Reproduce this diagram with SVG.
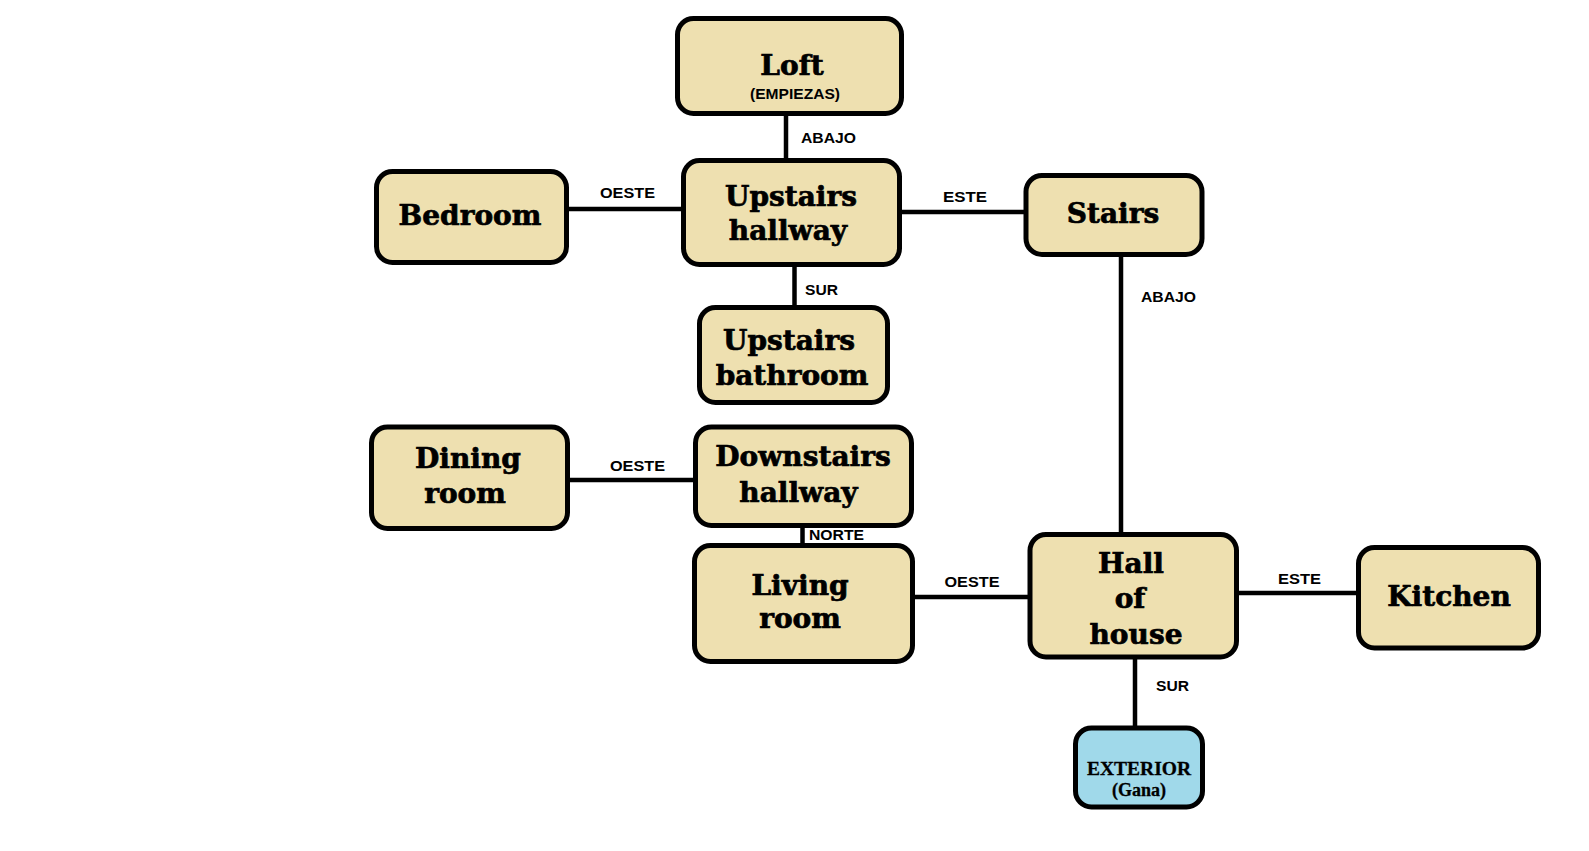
<svg xmlns="http://www.w3.org/2000/svg" width="1589" height="851" viewBox="0 0 1589 851">
<style>
.box{fill:#eee0b0;stroke:#000;stroke-width:5}
.ext{fill:#a0d9ea;stroke:#000;stroke-width:5}
.t{font-family:"DejaVu Serif","Liberation Serif",serif;font-weight:bold;font-size:28px;text-anchor:middle;fill:#000;stroke:#000;stroke-width:0.7}
.s{font-family:"Liberation Sans",Arial,sans-serif;font-weight:bold;font-size:15px;fill:#000}
.x{font-family:"Liberation Serif","Times New Roman",serif;font-weight:bold;font-size:18px;text-anchor:middle;fill:#000;stroke:#000;stroke-width:0.3}
.c{stroke:#000;stroke-width:4.5;fill:none}
</style>
<rect width="1589" height="851" fill="#fff"/>
<g id="connectors">
<line class="c" x1="786" y1="114" x2="786" y2="162"/>
<line class="c" x1="567" y1="209" x2="685" y2="209"/>
<line class="c" x1="900" y1="212" x2="1027" y2="212"/>
<line class="c" x1="794.5" y1="265" x2="794.5" y2="309"/>
<line class="c" x1="1121" y1="255" x2="1121" y2="536"/>
<line class="c" x1="568" y1="480" x2="697" y2="480"/>
<line class="c" x1="802.5" y1="526" x2="802.5" y2="547"/>
<line class="c" x1="913" y1="597" x2="1031" y2="597"/>
<line class="c" x1="1237" y1="593" x2="1360" y2="593"/>
<line class="c" x1="1135" y1="657" x2="1135" y2="729"/>
<text class="s" x="801" y="143" textLength="55" lengthAdjust="spacingAndGlyphs">ABAJO</text>
<text class="s" x="600" y="197.5" textLength="55" lengthAdjust="spacingAndGlyphs">OESTE</text>
<text class="s" x="943" y="201.5" textLength="44" lengthAdjust="spacingAndGlyphs">ESTE</text>
<text class="s" x="805" y="295" textLength="33" lengthAdjust="spacingAndGlyphs">SUR</text>
<text class="s" x="1141" y="302" textLength="55" lengthAdjust="spacingAndGlyphs">ABAJO</text>
<text class="s" x="610" y="471" textLength="55" lengthAdjust="spacingAndGlyphs">OESTE</text>
<text class="s" x="809" y="540" textLength="55" lengthAdjust="spacingAndGlyphs">NORTE</text>
<text class="s" x="944.5" y="587" textLength="55" lengthAdjust="spacingAndGlyphs">OESTE</text>
<text class="s" x="1278" y="583.5" textLength="43" lengthAdjust="spacingAndGlyphs">ESTE</text>
<text class="s" x="1156" y="691" textLength="33" lengthAdjust="spacingAndGlyphs">SUR</text>
</g>
<g id="loft">
<rect class="box" x="677.5" y="18.5" width="224" height="95" rx="16"/>
<text class="t" x="792" y="75">Loft</text>
<text class="s" x="795" y="99" text-anchor="middle" font-size="13.5" textLength="90" lengthAdjust="spacingAndGlyphs">(EMPIEZAS)</text>
</g>
<g id="upstairs-hallway">
<rect class="box" x="683.5" y="160.5" width="216" height="104" rx="16"/>
<text class="t" x="791" y="206">Upstairs</text>
<text class="t" x="788" y="240">hallway</text>
</g>
<g id="bedroom">
<rect class="box" x="376.5" y="171.5" width="190" height="91" rx="16"/>
<text class="t" x="470" y="225">Bedroom</text>
</g>
<g id="stairs">
<rect class="box" x="1026" y="175.5" width="176" height="79" rx="16"/>
<text class="t" x="1113" y="223">Stairs</text>
</g>
<g id="upstairs-bathroom">
<rect class="box" x="699.5" y="307.5" width="188" height="95" rx="16"/>
<text class="t" x="789" y="350">Upstairs</text>
<text class="t" x="792" y="385">bathroom</text>
</g>
<g id="dining-room">
<rect class="box" x="371.5" y="427" width="196" height="101.5" rx="16"/>
<text class="t" x="468" y="468">Dining</text>
<text class="t" x="465" y="502.5">room</text>
</g>
<g id="downstairs-hallway">
<rect class="box" x="695.5" y="427" width="216" height="98.5" rx="16"/>
<text class="t" x="803" y="466">Downstairs</text>
<text class="t" x="798.5" y="501.5">hallway</text>
</g>
<g id="living-room">
<rect class="box" x="694.5" y="545.5" width="218" height="116" rx="16"/>
<text class="t" x="800" y="595">Living</text>
<text class="t" x="800" y="628">room</text>
</g>
<g id="hall-of-house">
<rect class="box" x="1030" y="534.5" width="206.5" height="122.5" rx="16"/>
<text class="t" x="1131" y="572.5">Hall</text>
<text class="t" x="1130" y="608">of</text>
<text class="t" x="1136" y="643.5">house</text>
</g>
<g id="kitchen">
<rect class="box" x="1358.5" y="547.5" width="180" height="100.5" rx="16"/>
<text class="t" x="1449" y="606">Kitchen</text>
</g>
<g id="exterior">
<rect class="ext" x="1075.5" y="728" width="127" height="79" rx="16"/>
<text class="x" x="1139" y="775" font-size="17" textLength="104" lengthAdjust="spacingAndGlyphs">EXTERIOR</text>
<text class="x" x="1139" y="795.5" font-size="17">(Gana)</text>
</g>
</svg>
